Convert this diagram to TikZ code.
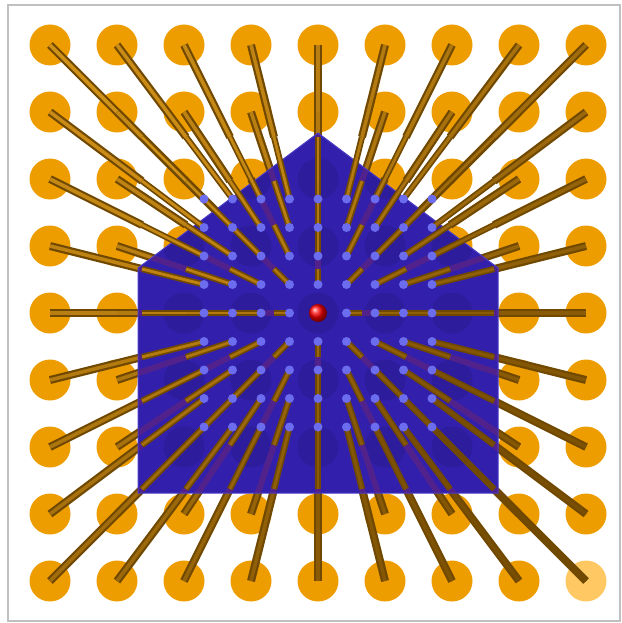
\documentclass[tikz,border=0pt]{standalone}
\usepackage{tikz}
\usetikzlibrary{calc}
\definecolor{housefill}{RGB}{50,32,172}
\definecolor{houseedge}{RGB}{74,60,198}
\definecolor{houseshade}{RGB}{45,28,156}
\definecolor{discfill}{RGB}{238,157,0}
\definecolor{discpale}{RGB}{255,200,98}
\definecolor{roddark}{RGB}{112,72,0}
\definecolor{rodlight}{RGB}{210,146,24}
\definecolor{rodhidden}{RGB}{82,34,140}
\definecolor{dotblue}{RGB}{108,108,238}
\definecolor{framegray}{RGB}{192,192,192}

\begin{document}
\begin{tikzpicture}[x=1pt, y=-1pt,
    disc/.style={circle, fill=discfill, minimum size=41pt, inner sep=0pt},
    farend/.style={circle, fill=dotblue, minimum size=9pt, inner sep=0pt},
    hub/.style={circle, shading=ball, ball color=red, minimum size=18pt, inner sep=0pt},
    rodback/.style={line width=2.2pt, draw=roddark, double distance=3.6pt},
    rodfront/.style={line width=1.7pt, draw=roddark, double distance=2.8pt},
    rodhide/.style={line width=6pt, draw=rodhidden}
]
  \useasboundingbox (0,0) rectangle (621,623);

  \foreach \i in {0,...,8}
    \foreach \j in {0,...,8} {
      \coordinate (x\i\j) at (142+44*\i, 137+44*\j);
      \coordinate (p\i\j) at (204+28.5*\i, 199+28.5*\j);
      \ifnum\i\j=88 \def\tone{discpale}\else\def\tone{discfill}\fi
      \node[disc, fill=\tone] (d\i\j) at (50+67*\i, 45+67*\j) {};
    }

  \foreach \i in {0,...,8}
    \foreach \j in {0,...,8} {
      \ifnum\i\j=44 \else
        \pgfmathtruncatemacro\lit{98-6*(\i+\j)}
        \draw[rodback, double=rodlight!\lit!roddark] (d\i\j.center) -- (x\i\j);
      \fi
    }

  \coordinate (h1) at (138,268);
  \coordinate (h2) at (318,133);
  \coordinate (h3) at (498,268);
  \coordinate (h4) at (498,493);
  \coordinate (h5) at (138,493);
  \fill[housefill] (h1) -- (h2) -- (h3) -- (h4) -- (h5) -- cycle;

  \begin{scope}
    \clip (h1) -- (h2) -- (h3) -- (h4) -- (h5) -- cycle;
    \foreach \i in {0,...,8}
      \foreach \j in {0,...,8}
        \fill[houseshade] (d\i\j.center) circle (20.5);
    \foreach \i in {0,...,8}
      \foreach \j in {0,...,8} {
        \ifnum\i\j=44 \else
          \draw[rodhide] (d\i\j.center) -- (x\i\j);
        \fi
      }
  \end{scope}
  \draw[houseedge, line width=1pt] (h1) -- (h2) -- (h3) -- (h4) -- (h5) -- cycle;

  \foreach \i in {0,...,8}
    \foreach \j in {0,...,8} {
      \ifnum\i\j=44 \else
        \pgfmathtruncatemacro\lit{98-6*(\i+\j)}
        \draw[rodfront, double=rodlight!\lit!roddark] (x\i\j) -- (p\i\j);
      \fi
    }

  \foreach \i in {0,...,8}
    \foreach \j in {0,...,8} {
      \ifnum\i\j=44 \else
        \node[farend] (f\i\j) at (p\i\j) {};
      \fi
    }
  \node[hub] (hub) at (318,313) {};

  \draw[framegray, line width=1.2pt] (8,5) rectangle (620,621);
\end{tikzpicture}
\end{document}
